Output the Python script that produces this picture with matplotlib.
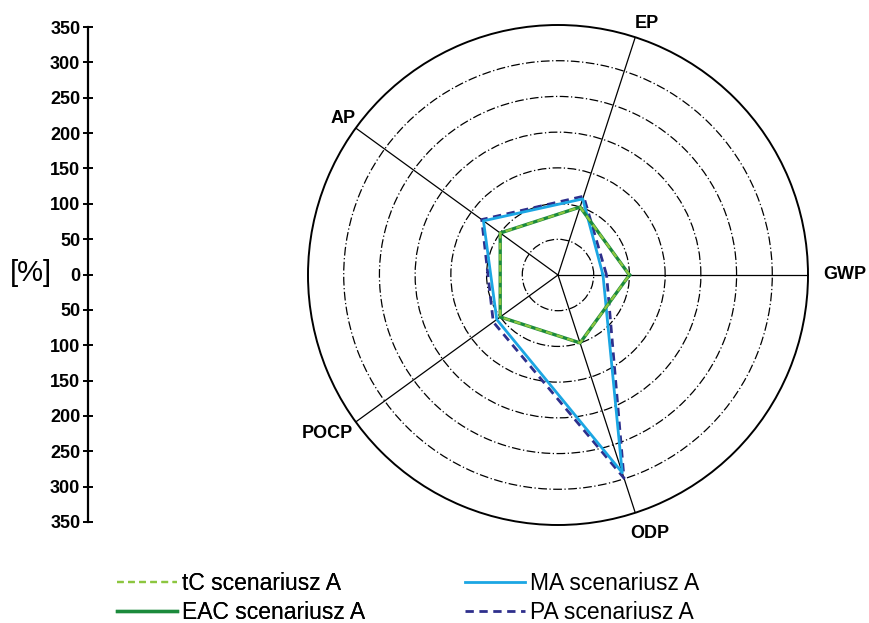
import numpy as np
import matplotlib
matplotlib.use("Agg")
import matplotlib.pyplot as plt

plt.rcParams["font.family"] = ["Liberation Sans", "DejaVu Sans"]

# impact categories, counter-clockwise from the right
categories = ["GWP", "EP", "AP", "POCP", "ODP"]

# values in %
tc_a = [100, 100, 100, 100, 100]
eac_a = [100, 100, 100, 100, 100]
ma_a = [63, 112, 129, 106, 291]
pa_a = [68, 116, 132, 112, 299]

rings = [50, 100, 150, 200, 250, 300]
rmax = 350

fig = plt.figure(figsize=(8.7, 6.23), dpi=100)

ax = fig.add_axes([308 / 870, 1 - 525 / 623, 500 / 870, 500 / 623], projection="polar")
theta = np.deg2rad(np.arange(len(categories)) * 360.0 / len(categories))


def closed(v):
    return np.append(theta, theta[0]), np.append(v, v[0])


t, r = closed(pa_a)
l_pa, = ax.plot(t, r, color="#2e2f8c", lw=2.0, ls=(0, (3, 2)), zorder=3)
t, r = closed(ma_a)
l_ma, = ax.plot(t, r, color="#1ba6e3", lw=2.0, zorder=4)
t, r = closed(eac_a)
l_eac, = ax.plot(t, r, color="#1b8a3c", lw=2.4, zorder=5)
t, r = closed(tc_a)
l_tc, = ax.plot(t, r, color="#8cc63f", lw=1.6, ls=(0, (3, 2)), zorder=6)

ax.set_ylim(0, rmax)
ax.set_rticks(rings)
ax.set_yticklabels([])
ax.yaxis.grid(True, color="black", lw=0.9, ls=(0, (7, 2, 1, 2)))
ax.set_xticks(theta)
ax.set_xticklabels([])
ax.xaxis.grid(True, color="black", lw=0.9, ls="-")
ax.spines["polar"].set_linewidth(1.4)
ax.spines["polar"].set_color("black")

# label placement around the circle (radius in data units, angle nudge in deg)
label_r = [402, 374, 372, 392, 384]
label_dt = [0, -1.5, 0, -1.5, 1.5]
for th, name, rr, dt in zip(theta, categories, label_r, label_dt):
    ax.text(th + np.deg2rad(dt), rr, name, ha="center", va="center", fontsize=13,
            fontweight="bold", clip_on=False)

# left scale
ax2 = fig.add_axes([88 / 870, 1 - 522 / 623, 0.0001, 495 / 623])
ax2.set_ylim(-350, 350)
ticks = list(range(-350, 351, 50))
ax2.set_yticks(ticks)
ax2.set_yticklabels([str(abs(v)) for v in ticks], fontsize=13, fontweight="bold")
ax2.set_xticks([])
for s in ["top", "right", "bottom"]:
    ax2.spines[s].set_visible(False)
ax2.spines["left"].set_linewidth(1.6)
ax2.tick_params(axis="y", direction="inout", length=7, width=1.4, pad=2)
fig.text(31 / 870, 1 - 273 / 623, "[%]", fontsize=21, ha="center", va="center")

leg_kw = dict(loc="center left", frameon=False, fontsize=16.5, handlelength=2.6,
              handletextpad=0.25, labelspacing=0.3, borderpad=0, borderaxespad=0)
leg1 = fig.legend([l_tc, l_eac], ["tC scenariusz A", "EAC scenariusz A"],
                  bbox_to_anchor=(117 / 870, 1 - 598 / 623), **leg_kw)
fig.add_artist(leg1)
fig.legend([l_ma, l_pa], ["MA scenariusz A", "PA scenariusz A"],
           bbox_to_anchor=(465 / 870, 1 - 598 / 623), **leg_kw)

fig.savefig("out.png", dpi=100)
